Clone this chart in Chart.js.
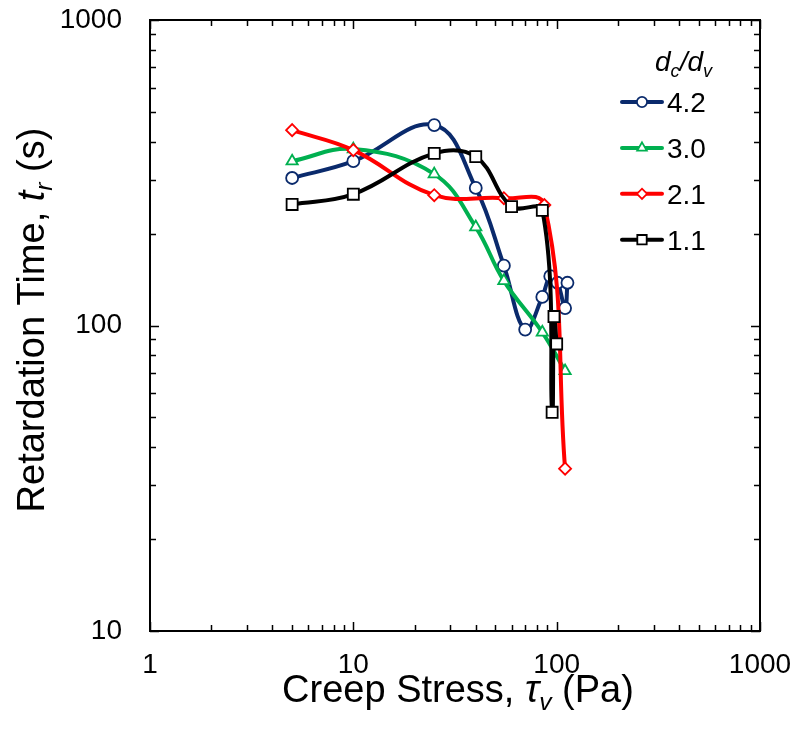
<!DOCTYPE html>
<html>
<head>
<meta charset="utf-8">
<script src="https://cdn.jsdelivr.net/npm/chart.js@4.4.1/dist/chart.umd.min.js"></script>
<style>
  html, body { margin: 0; padding: 0; background: #fff; }
  #wrap { width: 795px; height: 737px; }
</style>
</head>
<body>
<div id="wrap"><canvas id="creep" width="795" height="737"></canvas></div>
<script>
// creep stress (Pa) vs retardation time (s)
const stress42 = [5, 10, 25, 40, 55, 70, 85, 93, 101, 110, 113];
const time42   = [304, 345, 453, 282, 157, 97, 124, 145, 138, 114, 138];

const stress30 = [5, 10, 25, 40, 55, 85, 110];
const time30   = [345, 378, 313, 210, 140, 95, 71];

const stress21 = [5, 10, 25, 55, 87, 110];
const time21   = [436, 375, 267, 261, 248, 34];

const stress11 = [5, 10, 25, 40, 60, 85, 95, 97, 100];
const time11   = [249, 269, 366, 357, 245, 238, 52, 107, 87];

const seriesLabels = ['4.2', '3.0', '2.1', '1.1'];
const xTickLabels = [1, 10, 100, 1000];
const yTickLabels = [10, 100, 1000];

const FONT = "'Liberation Sans', Arial, sans-serif";

function toPoints(xs, ys) {
  return xs.map((x, i) => ({ x: x, y: ys[i] }));
}

// 1..9 x 10^n between min and max, so every minor tick gets a mark
function logTicks(min, max) {
  const out = [];
  for (let e = Math.floor(Math.log10(min)); e <= Math.ceil(Math.log10(max)); e++) {
    for (let k = 1; k <= 9; k++) {
      const v = k * Math.pow(10, e);
      if (v >= min && v <= max) out.push(v);
    }
  }
  return out;
}

function isDecade(v) {
  const l = Math.log10(v);
  return Math.abs(l - Math.round(l)) < 1e-9;
}

// text with italic / subscript pieces (axis titles, legend title)
function richFont(p, size) {
  const s = p.sub ? size * 0.65 : size;
  return (p.italic ? 'italic ' : '') + s + 'px ' + FONT;
}
function richWidth(ctx, parts, size) {
  let w = 0;
  parts.forEach(p => { ctx.font = richFont(p, size); w += ctx.measureText(p.text).width; });
  return w;
}
function drawRich(ctx, parts, size, x, y) {
  let cx = x;
  parts.forEach(p => {
    ctx.font = richFont(p, size);
    ctx.fillText(p.text, cx, p.sub ? y + size * 0.2 : y);
    cx += ctx.measureText(p.text).width;
  });
}

const xTitle = [
  { text: 'Creep Stress, ' },
  { text: 'τ', italic: true },
  { text: 'v', italic: true, sub: true },
  { text: ' (Pa)' }
];
const yTitle = [
  { text: 'Retardation Time, ' },
  { text: 't', italic: true },
  { text: 'r', italic: true, sub: true },
  { text: ' (s)' }
];
const legendTitle = [
  { text: 'd', italic: true },
  { text: 'c', italic: true, sub: true },
  { text: '/d', italic: true },
  { text: 'v', italic: true, sub: true }
];

const frameTicks = {
  id: 'frameTicks',
  beforeDatasetsDraw(chart) {
    const { ctx, chartArea: a, scales: { x, y } } = chart;
    ctx.save();
    ctx.strokeStyle = '#000';
    ctx.lineWidth = 1.5;
    ctx.beginPath();
    x.ticks.forEach(t => {
      const px = Math.round(x.getPixelForValue(t.value)) + 0.5;
      const len = isDecade(t.value) ? 9 : 6;
      ctx.moveTo(px, a.bottom); ctx.lineTo(px, a.bottom - len);
      ctx.moveTo(px, a.top); ctx.lineTo(px, a.top + len);
    });
    y.ticks.forEach(t => {
      const py = Math.round(y.getPixelForValue(t.value)) + 0.5;
      const len = isDecade(t.value) ? 9 : 6;
      ctx.moveTo(a.left, py); ctx.lineTo(a.left + len, py);
      ctx.moveTo(a.right, py); ctx.lineTo(a.right - len, py);
    });
    ctx.stroke();
    ctx.lineWidth = 2;
    ctx.strokeRect(a.left, a.top, a.right - a.left, a.bottom - a.top);
    ctx.restore();
  },
  afterDraw(chart) {
    const { ctx } = chart;
    ctx.save();
    ctx.fillStyle = '#000';
    ctx.textBaseline = 'alphabetic';

    // x title
    const size = 38;
    let w = richWidth(ctx, xTitle, size);
    drawRich(ctx, xTitle, size, 458 - w / 2, 702);

    // y title, rotated
    w = richWidth(ctx, yTitle, size);
    ctx.save();
    ctx.translate(44, 320);
    ctx.rotate(-Math.PI / 2);
    drawRich(ctx, yTitle, size, -w / 2, 0);
    ctx.restore();

    // legend
    drawRich(ctx, legendTitle, 28, 655, 71);
    chart.data.datasets.forEach((ds, i) => {
      const ly = 102 + i * 45.9;
      ctx.strokeStyle = ds.borderColor;
      ctx.lineWidth = 4;
      ctx.lineCap = 'round';
      ctx.beginPath();
      ctx.moveTo(622, ly); ctx.lineTo(662, ly);
      ctx.stroke();
      ctx.fillStyle = '#fff';
      ctx.lineWidth = 1.8;
      Chart.helpers.drawPoint(ctx, {
        pointStyle: ds.pointStyle, radius: ds.pointRadius * 0.85,
        rotation: 0, borderWidth: 1.8
      }, 642, ly);
      ctx.fillStyle = '#000';
      ctx.font = '28px ' + FONT;
      ctx.fillText(ds.label, 667, ly + 10);
    });
    ctx.restore();
  }
};

function series(label, xs, ys, color, style, radius, order) {
  return {
    label: label,
    data: toPoints(xs, ys),
    showLine: true,
    borderColor: color,
    borderWidth: 4,
    tension: 0.4,
    pointStyle: style,
    pointRadius: radius,
    pointBackgroundColor: '#fff',
    pointBorderColor: color,
    pointBorderWidth: 1.8,
    order: order
  };
}

new Chart(document.getElementById('creep'), {
  type: 'scatter',
  data: {
    datasets: [
      series(seriesLabels[0], stress42, time42, '#0a2a6c', 'circle', 6, 4),
      series(seriesLabels[1], stress30, time30, '#00b050', 'triangle', 6.5, 3),
      series(seriesLabels[2], stress21, time21, '#ff0000', 'rectRot', 6, 2),
      series(seriesLabels[3], stress11, time11, '#000000', 'rect', 7.8, 1)
    ]
  },
  options: {
    responsive: false,
    animation: false,
    layout: { padding: { top: 20, right: 35, left: 0, bottom: 0 } },
    plugins: {
      legend: { display: false },
      tooltip: { enabled: false }
    },
    scales: {
      x: {
        type: 'logarithmic',
        position: 'bottom',
        min: 1,
        max: 1000,
        afterBuildTicks: s => { s.ticks = logTicks(1, 1000).map(v => ({ value: v })); },
        afterFit: s => { s.height = 106; s.paddingLeft = 0; s.paddingRight = 0; },
        grid: { display: false },
        border: { display: false },
        ticks: {
          autoSkip: false,
          maxRotation: 0,
          padding: 9,
          color: '#000',
          font: { family: FONT, size: 28 },
          callback: v => xTickLabels.includes(v) ? String(v) : ''
        }
      },
      y: {
        type: 'logarithmic',
        min: 10,
        max: 1000,
        afterBuildTicks: s => { s.ticks = logTicks(10, 1000).map(v => ({ value: v })); },
        afterFit: s => { s.width = 150; s.paddingTop = 0; s.paddingBottom = 0; },
        grid: { display: false },
        border: { display: false },
        ticks: {
          autoSkip: false,
          padding: 20,
          color: '#000',
          font: { family: FONT, size: 28 },
          callback: v => yTickLabels.includes(v) ? String(v) : ''
        }
      }
    }
  },
  plugins: [frameTicks]
});
</script>
</body>
</html>
